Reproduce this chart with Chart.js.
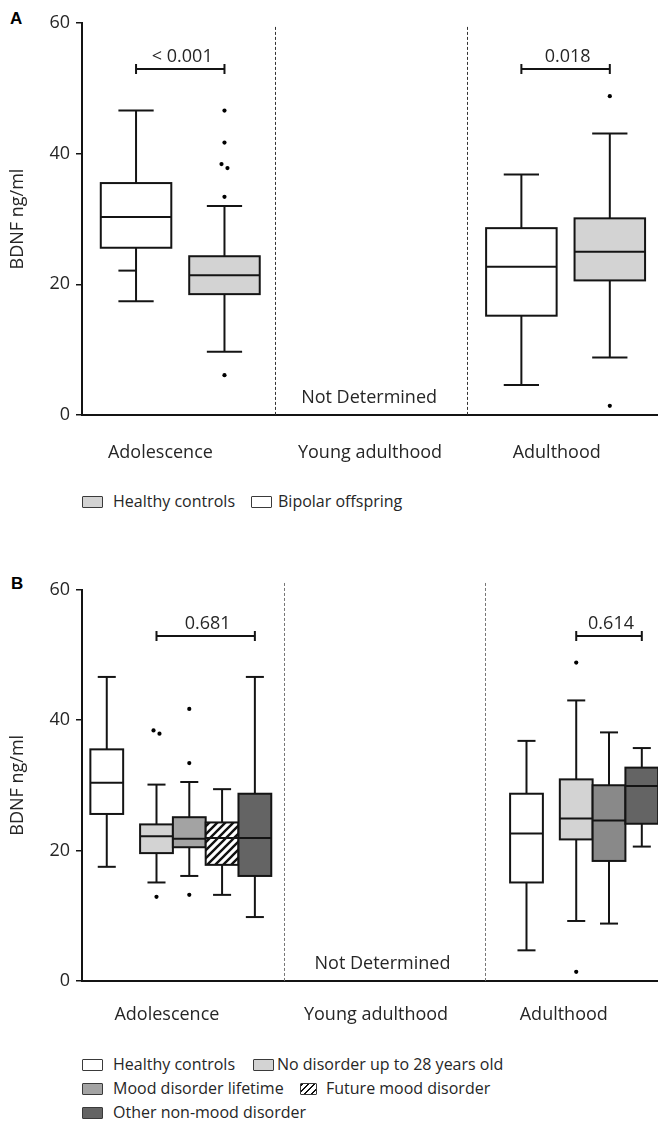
<!DOCTYPE html>
<html>
<head>
<meta charset="utf-8">
<script src="https://cdn.jsdelivr.net/npm/chart.js@4.4.0/dist/chart.umd.min.js"></script>
<style>
  html, body { margin: 0; padding: 0; background: #fff; }
  body { position: relative; width: 658px; height: 1124px; overflow: hidden; font-family: "Open Sans", sans-serif; color: #262626; }
  .wrap { position: absolute; left: 0; }
  #wrapA { top: 0; }
  #wrapB { top: 560px; }
  .letter { position: absolute; font: bold 17px/17px "Liberation Sans", Arial, sans-serif; color: #000; }
  .lg { position: absolute; font-size: 16px; line-height: 20px; white-space: nowrap; }
  .sw { position: absolute; width: 21px; height: 12px; box-sizing: border-box; border: 1.5px solid #3a3a3a; border-radius: 1px; }
</style>
</head>
<body>
<div class="letter" style="left:10px;top:10px">A</div>
<div class="letter" style="left:11px;top:575px">B</div>
<div class="wrap" id="wrapA"><canvas id="chartA" width="664" height="480"></canvas></div>
<div class="wrap" id="wrapB"><canvas id="chartB" width="691" height="475"></canvas></div>

<!-- legend A -->
<div class="sw" style="left:82px;top:496px;background:#d3d3d3"></div>
<div class="lg" style="left:113px;top:491px">Healthy controls</div>
<div class="sw" style="left:251px;top:496px;background:#fff"></div>
<div class="lg" style="left:278px;top:491px">Bipolar offspring</div>

<!-- legend B -->
<div class="sw" style="left:82px;top:1059px;background:#fff"></div>
<div class="lg" style="left:113px;top:1054px">Healthy controls</div>
<div class="sw" style="left:253px;top:1059px;background:#d3d3d3"></div>
<div class="lg" style="left:277px;top:1054px">No disorder up to 28 years old</div>
<div class="sw" style="left:82px;top:1083px;background:#a3a3a3"></div>
<div class="lg" style="left:113px;top:1078px">Mood disorder lifetime</div>
<div class="sw" style="left:300px;top:1083px;width:17px;background:repeating-linear-gradient(135deg,#111 0 1.5px,#fff 1.5px 4.5px)"></div>
<div class="lg" style="left:326px;top:1078px">Future mood disorder</div>
<div class="sw" style="left:82px;top:1107px;background:#646464"></div>
<div class="lg" style="left:113px;top:1102px">Other non-mood disorder</div>

<script>
//------------------data---------------------
const groups = ['Adolescence', 'Young adulthood', 'Adulthood'];
const yTicks = [0, 20, 40, 60];
const notDetermined = 'Not Determined';

// [min, q1, median, q3, max] per group, null when there is no box
// panel A
const aBipolarOffspring = [[17.4, 25.6, 30.3, 35.5, 46.6], null, [4.6, 15.2, 22.7, 28.6, 36.8]];
const aHealthyControls  = [[9.7, 18.5, 21.4, 24.3, 32.0], null, [8.8, 20.6, 25.0, 30.1, 43.1]];
const aBipolarOutliers  = [[], [], []];
const aHealthyOutliers  = [[46.6, 41.7, 38.4, 37.8, 33.4, 6.1], [], [48.8, 1.4]];
const aBipolarMarks     = [[22.1], [], []];   // short mark on the lower whisker
const aPValues          = ['< 0.001', null, '0.018'];

// panel B
const bHealthyControls = [[17.5, 25.6, 30.4, 35.5, 46.6], null, [4.7, 15.1, 22.6, 28.7, 36.8]];
const bNoDisorder      = [[15.1, 19.6, 22.2, 24.0, 30.1], null, [9.2, 21.7, 24.9, 30.9, 43.0]];
const bMoodLifetime    = [[16.1, 20.5, 21.8, 25.1, 30.5], null, [8.8, 18.4, 24.6, 30.0, 38.1]];
const bFutureMood      = [[13.2, 17.8, 21.9, 24.3, 29.4], null, null];
const bOtherNonMood    = [[9.8, 16.1, 21.9, 28.7, 46.6], null, [20.6, 24.1, 29.9, 32.7, 35.7]];
const bNoDisorderOutliers = [[38.4, 37.9, 12.9], [], [48.8, 1.4]];
const bMoodOutliers       = [[41.7, 33.4, 13.2], [], []];
const bPValues            = ['0.681', null, '0.614'];

// tick label positions on the x scale (group index units)
const aLabelPos = [0.407, 1.495, 2.464];
const bLabelPos = [0.421, 1.458, 2.389];


//------------------styles---------------------
const FONT = '"Open Sans", sans-serif';
const TEXT = '#262626';
const LINE = '#141414';
Chart.defaults.font.family = FONT;

function hatchPattern() {
  const c = document.createElement('canvas');
  c.width = 8; c.height = 8;
  const g = c.getContext('2d');
  g.fillStyle = '#fff';
  g.fillRect(0, 0, 8, 8);
  g.strokeStyle = '#111';
  g.lineWidth = 2.4;
  g.beginPath();
  g.moveTo(-2, 10); g.lineTo(10, -2);
  g.moveTo(-2, 2); g.lineTo(2, -2);
  g.moveTo(6, 10); g.lineTo(10, 6);
  g.stroke();
  return g.createPattern(c, 'repeat');
}


//------------------box plot helpers---------------------
function boxCenters(series, g, lay) {
  const present = [];
  series.forEach((s, i) => { if (s.stats[g]) present.push(i); });
  const total = present.length * lay.boxW + (present.length > 1 ? lay.gap : 0);
  let left = g + lay.center - total / 2;
  const out = {};
  present.forEach((si, k) => {
    out[si] = left + lay.boxW / 2;
    left += lay.boxW + (k === 0 ? lay.gap : 0);
  });
  return out;
}

function outlierData(series, lay, xs) {
  // x in scale units, close pairs spread a little
  const sets = [];
  series.forEach((s, si) => {
    const pts = [];
    (s.outliers || []).forEach((vals, g) => {
      const c = boxCenters(series, g, lay)[si];
      if (c === undefined) return;
      vals.forEach((v, k) => {
        let dx = 0;
        const prev = vals[k - 1], next = vals[k + 1];
        if (next !== undefined && Math.abs(next - v) < 1.5) dx = -3 / xs;
        if (prev !== undefined && Math.abs(prev - v) < 1.5) dx = 3 / xs;
        pts.push({x: c + dx, y: v});
      });
    });
    sets.push({
      data: pts,
      pointRadius: 2.1,
      pointBackgroundColor: '#000',
      pointBorderWidth: 0,
      showLine: false
    });
  });
  return sets;
}

function line(ctx, x1, y1, x2, y2) {
  ctx.beginPath();
  ctx.moveTo(x1, y1);
  ctx.lineTo(x2, y2);
  ctx.stroke();
}

function makeBoxPlugin(cfg) {
  return {
    id: 'boxes' + cfg.name,
    beforeDatasetsDraw(chart) {
      const {ctx, scales: {x, y}, chartArea} = chart;
      ctx.save();

      // dashed separators between age groups
      ctx.strokeStyle = cfg.dashColor;
      ctx.lineWidth = 1;
      ctx.setLineDash([3, 2]);
      for (let i = 1; i < groups.length; i++) {
        const px = Math.round(x.getPixelForValue(i)) + 0.5;
        line(ctx, px, y.getPixelForValue(cfg.dashTop), px, chartArea.bottom);
      }
      ctx.setLineDash([]);

      // boxes
      ctx.strokeStyle = LINE;
      ctx.lineWidth = 2;
      groups.forEach((name, g) => {
        const centers = boxCenters(cfg.series, g, cfg.lay);
        cfg.series.forEach((s, si) => {
          const st = s.stats[g];
          if (!st) return;
          const c = centers[si];
          const px = x.getPixelForValue(c);
          const half = (x.getPixelForValue(c + cfg.lay.boxW / 2) - x.getPixelForValue(c - cfg.lay.boxW / 2)) / 2;
          const cap = half * cfg.lay.cap;
          const [mn, q1, md, q3, mx] = st.map(v => y.getPixelForValue(v));

          line(ctx, px, mx, px, q3);
          line(ctx, px, q1, px, mn);
          line(ctx, px - cap, mx, px + cap, mx);
          line(ctx, px - cap, mn, px + cap, mn);
          (s.marks && s.marks[g] || []).forEach(v => {
            const py = y.getPixelForValue(v);
            line(ctx, px - cap, py, px, py);
          });

          ctx.fillStyle = (s.fillByGroup && s.fillByGroup[g]) || s.fill;
          ctx.fillRect(px - half, q3, half * 2, q1 - q3);
          ctx.strokeRect(px - half, q3, half * 2, q1 - q3);
          line(ctx, px - half, md, px + half, md);
        });
      });
      ctx.restore();
    },
    afterDraw(chart) {
      const {ctx, scales: {x, y}} = chart;
      ctx.save();
      ctx.strokeStyle = LINE;
      ctx.fillStyle = TEXT;
      ctx.lineWidth = 2;
      ctx.font = '18px ' + FONT;
      ctx.textAlign = 'center';
      ctx.textBaseline = 'alphabetic';

      // p-value brackets
      cfg.pValues.forEach((p, g) => {
        if (!p) return;
        const centers = boxCenters(cfg.series, g, cfg.lay);
        const idx = Object.keys(centers).map(Number);
        const from = centers[cfg.bracketFrom];
        const to = centers[Math.max(...idx)];
        const x1 = x.getPixelForValue(from), x2 = x.getPixelForValue(to);
        const py = Math.round(y.getPixelForValue(cfg.bracketY));
        line(ctx, x1, py, x2, py);
        line(ctx, x1, py - 5, x1, py + 5);
        line(ctx, x2, py - 5, x2, py + 5);
        ctx.fillText(p, (x1 + x2) / 2 + 2, py - 7);
      });

      // no data for young adulthood
      ctx.fillText(notDetermined, x.getPixelForValue(1.49), y.getPixelForValue(1.9));
      ctx.restore();
    }
  };
}

function makeChart(id, cfg) {
  const xs = cfg.unitPx;
  new Chart(document.getElementById(id), {
    type: 'scatter',
    data: { datasets: outlierData(cfg.series, cfg.lay, xs) },
    options: {
      responsive: false,
      animation: false,
      events: [],
      layout: { padding: { top: cfg.padTop, right: 0, left: 0, bottom: 0 } },
      plugins: { legend: { display: false }, tooltip: { enabled: false } },
      scales: {
        x: {
          type: 'linear',
          min: 0,
          max: groups.length,
          afterBuildTicks: s => { s.ticks = cfg.labelPos.map(v => ({value: v})); },
          afterFit: s => { s.height = cfg.xAxisH; },
          ticks: {
            autoSkip: false,
            maxRotation: 0,
            padding: cfg.labelPad,
            color: TEXT,
            font: { size: 18 },
            callback: (v, i) => groups[i]
          },
          grid: { drawOnChartArea: false, drawTicks: false },
          border: { color: LINE, width: 2 }
        },
        y: {
          min: 0,
          max: 60,
          afterBuildTicks: s => { s.ticks = yTicks.map(v => ({value: v})); },
          afterFit: s => { s.width = 82; },
          ticks: { padding: 6, color: TEXT, font: { size: 18 } },
          grid: { drawOnChartArea: false, tickLength: 6, color: LINE, lineWidth: 1.5 },
          border: { color: LINE, width: 2 },
          title: { display: true, text: 'BDNF ng/ml', color: TEXT, font: { size: 18 }, padding: { top: 7, bottom: 0 } }
        }
      }
    },
    plugins: [makeBoxPlugin(cfg)]
  });
}


//------------------panel A---------------------
makeChart('chartA', {
  name: 'A',
  series: [
    { stats: aBipolarOffspring, outliers: aBipolarOutliers, marks: aBipolarMarks, fill: '#ffffff' },
    { stats: aHealthyControls, outliers: aHealthyOutliers, fill: '#d3d3d3' }
  ],
  lay: { boxW: 0.366, gap: 0.093, center: 0.51, cap: 0.5 },
  unitPx: 194,
  labelPos: aLabelPos,
  pValues: aPValues,
  bracketFrom: 0,
  bracketY: 53,
  dashTop: 59.4,
  dashColor: '#333',
  padTop: 23,
  xAxisH: 65,
  labelPad: 27
});


//------------------panel B---------------------
const hatch = hatchPattern();
makeChart('chartB', {
  name: 'B',
  series: [
    { stats: bHealthyControls, fill: '#ffffff' },
    { stats: bNoDisorder, outliers: bNoDisorderOutliers, fill: '#d3d3d3' },
    { stats: bMoodLifetime, outliers: bMoodOutliers, fill: '#a3a3a3', fillByGroup: [null, null, '#898989'] },
    { stats: bFutureMood, fill: hatch },
    { stats: bOtherNonMood, fill: '#646464' }
  ],
  lay: { boxW: 0.1626, gap: 0.084, center: 0.49, cap: 0.55 },
  unitPx: 203,
  labelPos: bLabelPos,
  pValues: bPValues,
  bracketFrom: 1,
  bracketY: 52.8,
  dashTop: 61,
  dashColor: '#777',
  padTop: 29.5,
  xAxisH: 54,
  labelPad: 23
});
</script>
</body>
</html>
